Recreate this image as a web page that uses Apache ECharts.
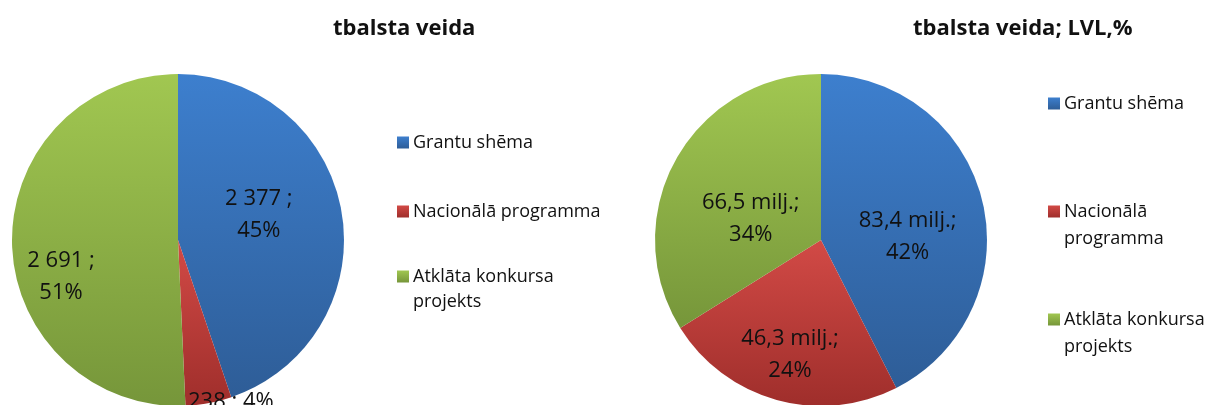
<!DOCTYPE html>
<html>
<head>
<meta charset="utf-8">
<script src="https://cdn.jsdelivr.net/npm/echarts@6/dist/echarts.min.js"></script>
<style>
    html, body { margin: 0; padding: 0; background: #fff; }
    #chart { width: 1213px; height: 405px; }
</style>
</head>
<body>
<div id="chart"></div>
<script>
    // dati
    var categories = ['Grantu shēma', 'Nacionālā programma', 'Atklāta konkursa projekts'];
    var countValues = [2377, 238, 2691];
    var countPercents = [45, 4, 51];
    var amountValues = [83.4, 46.3, 66.5];
    var amountPercents = [42, 24, 34];
    var leftTitle = 'tbalsta veida';
    var rightTitle = 'tbalsta veida; LVL,%';

    var FONT = 'Open Sans';

    function grad(top, bottom) {
        return new echarts.graphic.LinearGradient(0, 0, 0, 1, [
            {offset: 0, color: top},
            {offset: 1, color: bottom}
        ]);
    }
    var sliceColors = [
        grad('#3d7fce', '#2e5d97'),
        grad('#d24a46', '#9f2e2b'),
        grad('#a1c751', '#76963a')
    ];

    function fmtCount(v) {
        return String(v).replace(/\B(?=(\d{3})+(?!\d))/g, ' ');
    }
    function fmtMilj(v) {
        return v.toFixed(1).replace('.', ',') + ' milj.;';
    }

    // label nudges so the text sits where the original puts it
    var leftOffsets = [[-4, -11], [37, 77], [-31, 35]];
    var rightOffsets = [[3, 17], [-8, 32], [5, 20]];

    var leftData = categories.map(function (name, i) {
        return {
            name: name,
            value: countValues[i],
            itemStyle: {color: sliceColors[i]},
            label: {offset: leftOffsets[i]}
        };
    });
    var rightData = categories.map(function (name, i) {
        return {
            name: name,
            value: amountValues[i],
            itemStyle: {color: sliceColors[i]},
            label: {offset: rightOffsets[i]}
        };
    });

    // legend items, each placed separately
    function legendItem(name, left, top, text, lh) {
        return {
            orient: 'vertical',
            left: left,
            top: top,
            padding: 0,
            data: [name],
            selectedMode: false,
            itemWidth: 12,
            itemHeight: 12,
            itemGap: 0,
            icon: 'rect',
            formatter: function () { return text; },
            textStyle: {fontFamily: FONT, fontSize: 18, color: '#111', lineHeight: lh, padding: [0, 0, 0, -1]}
        };
    }

    var legends = [
        legendItem(categories[0], 397, 130, categories[0], 25),
        legendItem(categories[1], 397, 199, categories[1], 25),
        legendItem(categories[2], 397, 239, '\nAtklāta konkursa\nprojekts', 25),
        legendItem(categories[0], 1048, 90, categories[0], 27),
        legendItem(categories[1], 1048, 171, '\nNacionālā\nprogramma', 27),
        legendItem(categories[2], 1048, 279, '\nAtklāta konkursa\nprojekts', 27)
    ];

    var titleStyle = {fontFamily: FONT, fontSize: 22, fontWeight: 'bold', color: '#111'};

    var chart = echarts.init(document.getElementById('chart'));
    chart.setOption({
        animation: false,
        title: [
            {text: leftTitle, left: 328, top: 13, textStyle: titleStyle},
            {text: rightTitle, left: 908, top: 13, textStyle: titleStyle}
        ],
        legend: legends,
        series: [
            {
                type: 'pie',
                center: [178, 240],
                radius: 166,
                startAngle: 90,
                clockwise: true,
                data: leftData,
                itemStyle: {borderWidth: 0},
                label: {
                    position: 'inside',
                    fontFamily: FONT,
                    fontSize: 22,
                    color: '#111',
                    lineHeight: 32,
                    formatter: function (p) {
                        if (p.dataIndex === 1) {
                            return fmtCount(p.value) + ' ; ' + countPercents[p.dataIndex] + '%';
                        }
                        return fmtCount(p.value) + ' ;\n' + countPercents[p.dataIndex] + '%';
                    }
                },
                labelLine: {show: false},
                emphasis: {disabled: true}
            },
            {
                type: 'pie',
                center: [821, 240],
                radius: 166,
                startAngle: 90,
                clockwise: true,
                data: rightData,
                itemStyle: {borderWidth: 0},
                label: {
                    position: 'inside',
                    fontFamily: FONT,
                    fontSize: 22,
                    color: '#111',
                    lineHeight: 32,
                    formatter: function (p) {
                        return fmtMilj(p.value) + '\n' + amountPercents[p.dataIndex] + '%';
                    }
                },
                labelLine: {show: false},
                emphasis: {disabled: true}
            }
        ]
    });
</script>
</body>
</html>
